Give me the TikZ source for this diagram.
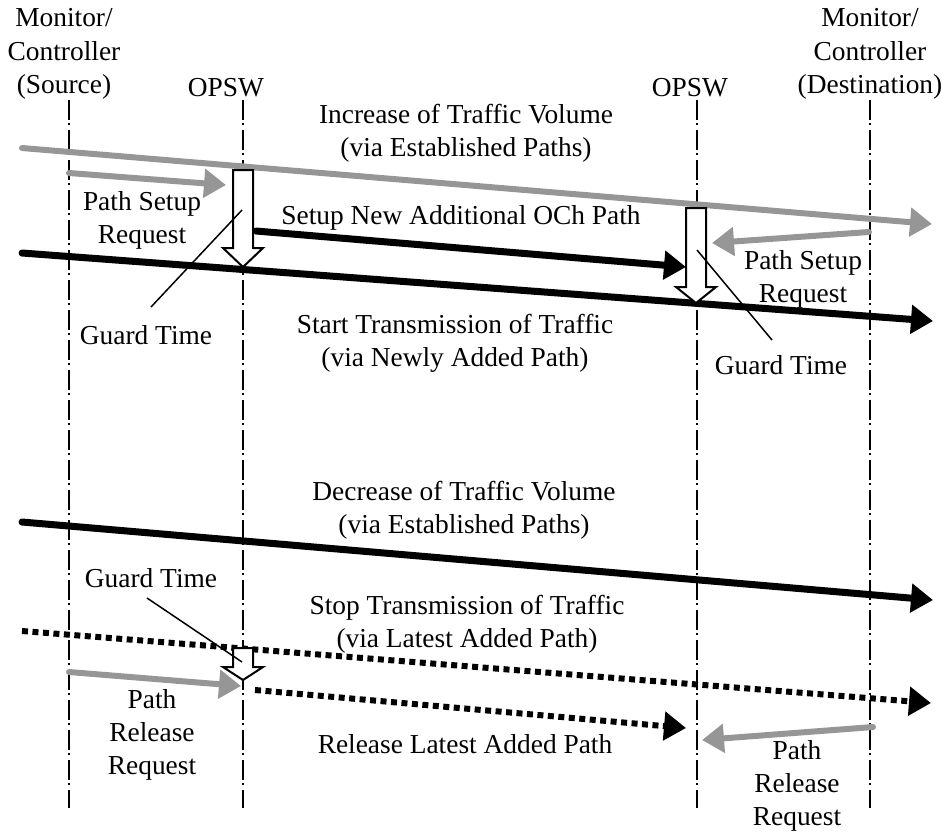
\documentclass[tikz,border=0pt]{standalone}
\usepackage{fontspec}
\setmainfont{Liberation Serif}
\usetikzlibrary{arrows.meta}
\definecolor{reqgray}{RGB}{150,150,150}
\begin{document}
\begin{tikzpicture}[x=0.5pt,y=-0.5pt,
  lbl/.style={font=\fontsize{13.7}{16.6}\selectfont, align=center, inner sep=0pt},
  lifeline/.style={line width=1.2pt, dash pattern=on 10pt off 1.5pt on 1pt off 2.5pt},
  bighead/.style={-{Triangle[length=11pt,width=14pt]}},
  traffic/.style={bighead, line width=3.5pt, black, line cap=round},
  trafficdot/.style={bighead, line width=3pt, black, dash pattern=on 3pt off 2.25pt},
  request/.style={bighead, line width=3pt, reqgray, line cap=round},
  guard/.style={line width=0.75pt},
  blockarrow/.style={draw=black, line width=1pt, fill=white, line join=miter}
]
\useasboundingbox (0,0) rectangle (942,832);

% column headers
\node[lbl] (src) at (64,54) {Monitor/\\Controller\\(Source)};
\node[lbl] (sw1) at (226,88) {OPSW};
\node[lbl] (sw2) at (690,88) {OPSW};
\node[lbl] (dst) at (870,54) {Monitor/\\Controller\\(Destination)};

% lifelines
\foreach \n/\x in {a/69,b/243,c/697,d/870}{
  \coordinate (\n top) at (\x,100);
  \coordinate (\n bot) at (\x,808);
  \draw[lifeline] (\n top) -- (\n bot);
}

% ---- path setup phase ----
\coordinate (inc1) at (22,148);  \coordinate (inc2) at (932,224);
\draw[reqgray, line width=3pt, line cap=round, -{Triangle[length=11pt,width=14pt]}] (inc1) -- (inc2);
\node[lbl] (inclbl) at (466,133) {Increase of Traffic Volume\\(via Established Paths)};

\coordinate (psr1) at (69,173);  \coordinate (psr2) at (226,185);
\draw[request] (psr1) -- (psr2);
\node[lbl] (psrlbl) at (142,220) {Path Setup\\Request};

\coordinate (snp1) at (256,231); \coordinate (snp2) at (686,267);
\draw[traffic] (snp1) -- (snp2);
\node[lbl] (snplbl) at (461,218) {Setup New Additional OCh Path};

\coordinate (pdr1) at (869,232); \coordinate (pdr2) at (712,243);
\draw[request] (pdr1) -- (pdr2);
\node[lbl] (pdrlbl) at (803,279) {Path Setup\\Request};

\coordinate (st1) at (22,253);   \coordinate (st2) at (933,321);
\draw[traffic] (st1) -- (st2);
\node[lbl] (stlbl) at (455,343) {Start Transmission of Traffic\\(via Newly Added Path)};

% switching guard times
\path[blockarrow] (233,170) -- (253,170) -- (253,248) -- (263,248) -- (243,267)
  -- (223,248) -- (233,248) -- cycle;
\path[blockarrow] (686,208) -- (706,208) -- (706,287) -- (716,287) -- (696,303)
  -- (676,287) -- (686,287) -- cycle;

\node[lbl] (gt1) at (146,335) {Guard Time};
\coordinate (gt1a) at (242,210);
\coordinate (gt1b) at (151,307);
\draw[guard] (gt1a) -- (gt1b);
\node[lbl] (gt2) at (781,365) {Guard Time};
\coordinate (gt2a) at (697,250);
\coordinate (gt2b) at (772,340);
\draw[guard] (gt2a) -- (gt2b);

% ---- path release phase ----
\coordinate (dec1) at (22,522);  \coordinate (dec2) at (933,600);
\draw[traffic] (dec1) -- (dec2);
\node[lbl] (declbl) at (464,510) {Decrease of Traffic Volume\\(via Established Paths)};

\coordinate (stp1) at (22,631);  \coordinate (stp2) at (931,703);
\draw[trafficdot] (stp1) -- (stp2);
\node[lbl] (stplbl) at (467,624) {Stop Transmission of Traffic\\(via Latest Added Path)};

\coordinate (prr1) at (69,672);  \coordinate (prr2) at (241,686);
\draw[request] (prr1) -- (prr2);
\node[lbl] (prrlbl) at (152,735) {Path\\Release\\Request};

\coordinate (rel1) at (255,690); \coordinate (rel2) at (686,728);
\draw[trafficdot] (rel1) -- (rel2);
\node[lbl] (rellbl) at (465,744) {Release Latest Added Path};

\coordinate (pdl1) at (873,727); \coordinate (pdl2) at (702,740);
\draw[request] (pdl1) -- (pdl2);
\node[lbl] (pdllbl) at (797,786) {Path\\Release\\Request};

\path[blockarrow] (233,648) -- (253,648) -- (253,667) -- (263,667) -- (243,680)
  -- (223,667) -- (233,667) -- cycle;

\node[lbl] (gt3) at (151,578) {Guard Time};
\coordinate (gt3a) at (242,662);
\coordinate (gt3b) at (147,598);
\draw[guard] (gt3b) -- (gt3a);
\end{tikzpicture}
\end{document}
